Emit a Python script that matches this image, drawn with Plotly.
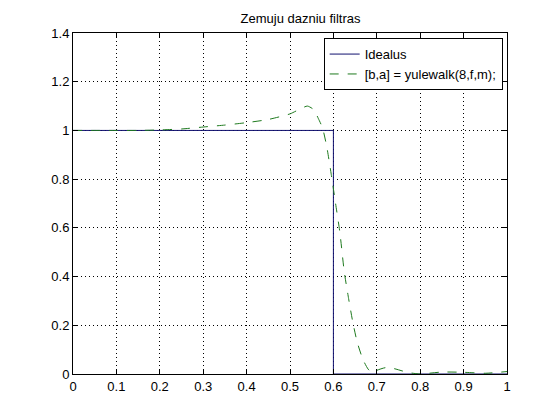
import plotly.graph_objects as go

# ideal low-pass response
ideal_f = [0, 0.6, 0.6, 1.0]
ideal_m = [1, 1, 0, 0]

# yulewalk(8,f,m) magnitude
yw_f = [0, 0.05, 0.1, 0.15, 0.2, 0.25, 0.3, 0.35, 0.4, 0.45, 0.5, 0.52,
        0.54, 0.555, 0.565, 0.575, 0.585, 0.595, 0.605, 0.615, 0.625,
        0.635, 0.645, 0.655, 0.668, 0.68, 0.69, 0.70, 0.72, 0.74, 0.76,
        0.78, 0.80, 0.85, 0.9, 0.95, 1.0]
yw_m = [1.0, 1.0, 1.0, 1.0, 1.002, 1.006, 1.014, 1.022, 1.032, 1.045, 1.068,
        1.085, 1.10, 1.085, 1.05, 1.01, 0.93, 0.82, 0.70, 0.58, 0.42,
        0.31, 0.21, 0.13, 0.06, 0.02, 0.005, 0.015, 0.026, 0.022, 0.012,
        0.004, 0.0, 0.008, 0.007, 0.003, 0.01]

x_ticks = [0, 0.1, 0.2, 0.3, 0.4, 0.5, 0.6, 0.7, 0.8, 0.9, 1]
y_ticks = [0, 0.2, 0.4, 0.6, 0.8, 1, 1.2, 1.4]

fig = go.Figure()
fig.add_trace(go.Scatter(
    x=ideal_f, y=ideal_m, mode="lines", name="Idealus",
    line=dict(color="#10106e", width=1),
))
fig.add_trace(go.Scatter(
    x=yw_f, y=yw_m, mode="lines", name="[b,a] = yulewalk(8,f,m);",
    line=dict(color="#1e7a1e", width=1, dash="dash", shape="spline", smoothing=0.6),
))

axis_common = dict(
    showline=True, linecolor="black", linewidth=1, mirror="ticks",
    ticks="inside", ticklen=5, tickcolor="black",
    showgrid=True, gridcolor="black", griddash="1px,3px", gridwidth=1,
    zeroline=False, tickfont=dict(size=13, color="black"),
)

fig.update_xaxes(range=[0, 1], tickvals=x_ticks,
                 ticktext=[f"{v:g}" for v in x_ticks], **axis_common)
fig.update_yaxes(range=[0, 1.4], tickvals=y_ticks,
                 ticktext=[f"{v:g}" for v in y_ticks], **axis_common)

# page body adds an 8px offset, so the figure is sized to fit inside
fig.update_layout(
    width=552, height=412,
    margin=dict(l=65, r=53, t=25, b=46),
    paper_bgcolor="white", plot_bgcolor="white",
    font=dict(family="Liberation Sans, Arial, sans-serif", size=13, color="black"),
    title=dict(text="Zemuju dazniu filtras", x=0.53, xanchor="center",
               y=0.975, yanchor="middle", font=dict(size=13)),
    showlegend=True,
    legend=dict(x=0.99, y=0.985, xanchor="right", yanchor="top",
                bgcolor="white", bordercolor="black", borderwidth=1,
                font=dict(size=13), tracegroupgap=0),
)

fig.write_html("out.html")
